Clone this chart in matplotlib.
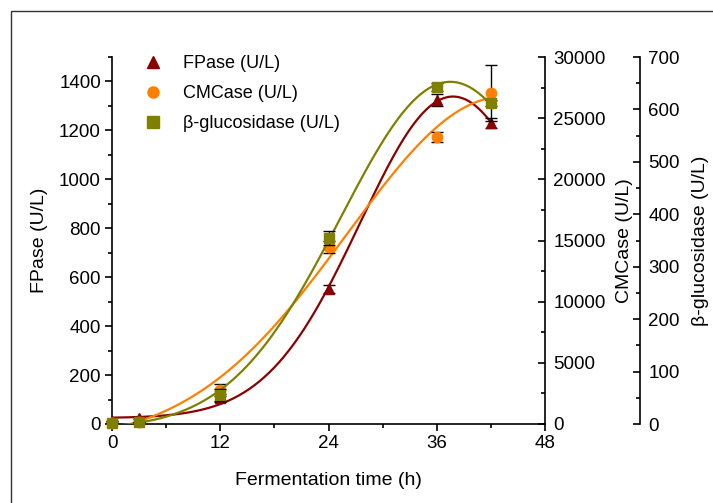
import numpy as np
import matplotlib
matplotlib.use("Agg")
import matplotlib.pyplot as plt
from matplotlib.lines import Line2D
from matplotlib.patches import Rectangle

plt.rcParams['font.family'] = ['Liberation Sans', 'DejaVu Sans']
plt.rcParams['font.size'] = 13.5

# --- data ---
time_h = np.array([0, 3, 12, 24, 36, 42])

fpase = np.array([12, 24, 106, 552, 1324, 1230])
fpase_err = np.array([0, 5, 15, 15, 25, 20])

cmcase = np.array([100, 150, 2780, 14470, 23460, 27060])
cmcase_err = np.array([0, 50, 500, 500, 400, 2300])

bglu = np.array([2, 3, 55, 355, 643, 612])
bglu_err = np.array([0, 1, 12, 13, 8, 6])

labels = ["FPase (U/L)", "CMCase (U/L)", "\u03b2-glucosidase (U/L)"]
colors = ["#8B0000", "#FF8000", "#808000"]


def gauss_fit(x, y):
    """Gaussian fit y0 + A*exp(-(x-xc)^2/(2w^2)), grid over xc/w, linear lstsq for y0, A."""
    x = x.astype(float)
    y = y.astype(float)
    xc = np.linspace(25, 60, 351)[:, None, None]
    w = np.linspace(4, 30, 261)[None, :, None]
    g = np.exp(-(x - xc) ** 2 / (2 * w * w))
    n = len(x)
    sg = g.sum(-1)
    sgg = (g * g).sum(-1)
    sy = y.sum()
    sgy = (g * y).sum(-1)
    det = n * sgg - sg * sg
    y0 = (sgg * sy - sg * sgy) / det
    a = (n * sgy - sg * sy) / det
    res = ((y0[..., None] + a[..., None] * g - y) ** 2).sum(-1)
    i, j = np.unravel_index(np.argmin(res), res.shape)
    return y0[i, j], a[i, j], xc[i, 0, 0], w[0, j, 0]


def curve(x, y):
    y0, a, xc, w = gauss_fit(x, y)
    xs = np.linspace(0, 42, 300)
    return xs, y0 + a * np.exp(-(xs - xc) ** 2 / (2 * w * w))


fig = plt.figure(figsize=(7.13, 5.03), dpi=100)
ax = fig.add_axes([112 / 713, 79 / 503, 433 / 713, 367 / 503])
ax2 = ax.twinx()
ax3 = ax.twinx()

# frame around figure
fig.patches.append(Rectangle((11 / 713, -0.1), 1.2, 1.1 - 11 / 503,
                             transform=fig.transFigure, fill=False,
                             edgecolor="#333333", linewidth=1.0))

series = [(ax, fpase, fpase_err, "^"), (ax2, cmcase, cmcase_err, "o"), (ax3, bglu, bglu_err, "s")]
for (a, y, e, m), c in zip(series, colors):
    xs, ys = curve(time_h, y)
    a.plot(xs, ys, color=c, lw=1.6, zorder=2)
    a.errorbar(time_h, y, yerr=e, fmt=m, color=c, ms=7.5, ecolor="black",
               elinewidth=1, capsize=4, capthick=1, zorder=3, clip_on=False)

# x axis
ax.set_xlim(0, 48)
ax.set_xticks([0, 12, 24, 36, 48])
ax.set_xticks([6, 18, 30, 42], minor=True)
ax.set_xlabel("Fermentation time (h)", fontsize=14, labelpad=14)

# left axis
ax.set_ylim(0, 1500)
ax.set_yticks(np.arange(0, 1401, 200))
ax.set_yticks(np.arange(100, 1501, 200), minor=True)
ax.set_ylabel("FPase (U/L)", fontsize=14, labelpad=8)
ax.spines["top"].set_visible(False)
ax.spines["right"].set_visible(False)
ax.tick_params(which="major", direction="out", length=5, width=1.2, pad=3)
ax.tick_params(which="minor", direction="out", length=3, width=1.2)

# CMCase axis
ax2.set_ylim(0, 30000)
ax2.set_yticks(np.arange(0, 30001, 5000))
ax2.set_yticks(np.arange(2500, 30000, 5000), minor=True)
ax2.set_ylabel("CMCase (U/L)", fontsize=14, labelpad=7)

# beta-glucosidase axis
ax3.spines["right"].set_position(("axes", (640 - 112) / 433))
ax3.set_ylim(0, 700)
ax3.set_yticks(np.arange(0, 701, 100))
ax3.set_yticks(np.arange(50, 700, 100), minor=True)
ax3.set_ylabel("\u03b2-glucosidase (U/L)", fontsize=14, labelpad=9)

for a in (ax2, ax3):
    for s in ("top", "left", "bottom"):
        a.spines[s].set_visible(False)
    a.tick_params(which="major", direction="in", length=5, width=1.2, pad=6)
    a.tick_params(which="minor", direction="in", length=3, width=1.2)

for a in (ax, ax2, ax3):
    for s in a.spines.values():
        s.set_linewidth(1.2)

handles = [Line2D([], [], ls="none", marker=m, color=c, ms=8)
           for m, c in zip(["^", "o", "s"], colors)]
ax.legend(handles, labels, loc="upper left", bbox_to_anchor=(0.027, 1.05),
          frameon=False, handlelength=1.5, handletextpad=0.9,
          labelspacing=0.72, fontsize=13)

fig.savefig("out.png", dpi=100)
